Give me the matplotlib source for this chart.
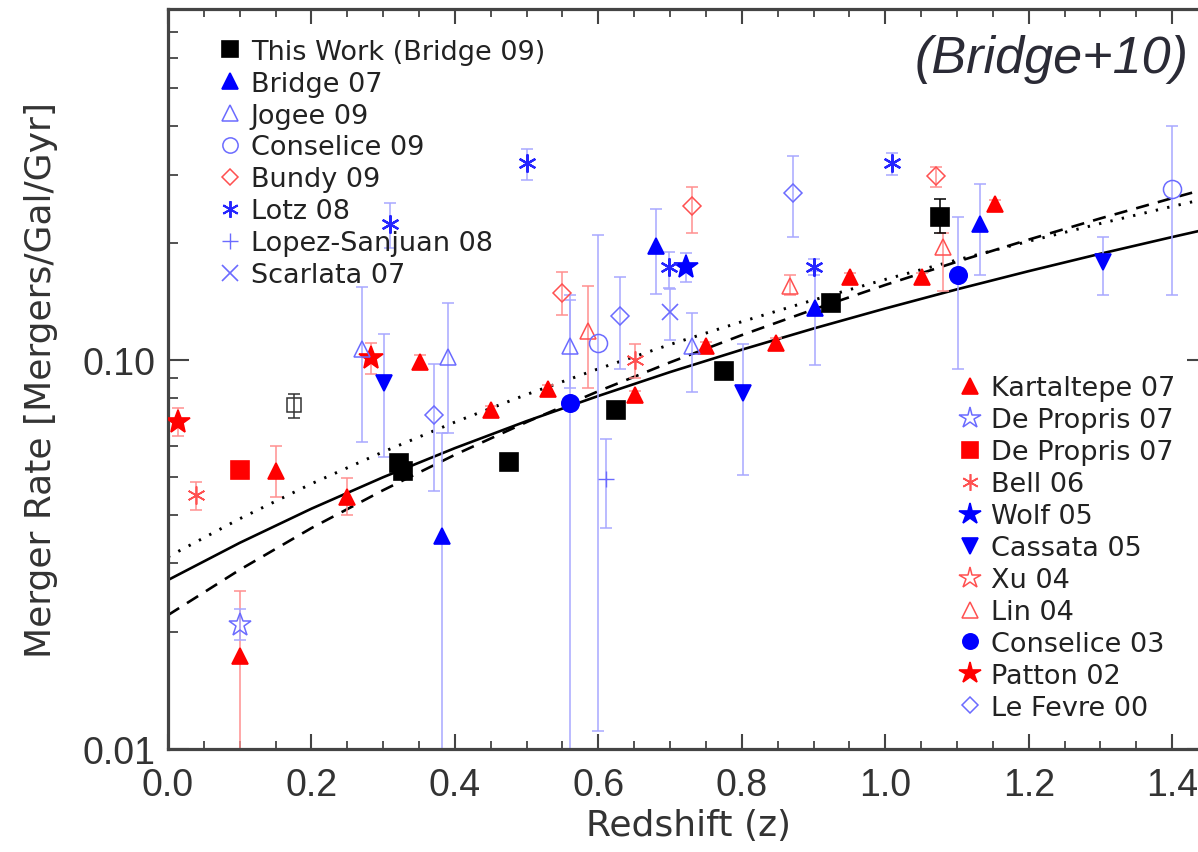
import matplotlib
matplotlib.use("Agg")
import matplotlib.pyplot as plt
from matplotlib.lines import Line2D
from matplotlib.ticker import FixedLocator, FixedFormatter, NullFormatter, MultipleLocator, LogLocator

# fitted curves (z, merger rate)
fit_z = [0.0, 0.1, 0.2, 0.3, 0.4, 0.5, 0.6, 0.7, 0.8, 0.9, 1.0, 1.1, 1.2, 1.3, 1.4, 1.45]
fit_solid = [0.0272, 0.0339, 0.0415, 0.0500, 0.0594, 0.0697, 0.0809, 0.0932,
             0.1064, 0.1206, 0.1358, 0.1521, 0.1694, 0.1878, 0.2073, 0.2175]
fit_dashed = [0.0221, 0.0289, 0.0370, 0.0463, 0.0571, 0.0693, 0.0832, 0.0987,
              0.1160, 0.1350, 0.1561, 0.1791, 0.2042, 0.2315, 0.2610, 0.2766]
fit_dotted = [0.0312, 0.0391, 0.0481, 0.0581, 0.0693, 0.0816, 0.0950, 0.1097,
              0.1256, 0.1428, 0.1613, 0.1810, 0.2022, 0.2246, 0.2485, 0.2609]

# surveys: redshift, rate, lower bound, upper bound
this_z = [0.322, 0.328, 0.475, 0.625, 0.775, 0.925, 1.076]
this_r = [0.0545, 0.0520, 0.0548, 0.0746, 0.0939, 0.140, 0.234]
this_lo = [0.0525, 0.0500, 0.0530, 0.0725, 0.0915, 0.136, 0.212]
this_hi = [0.0565, 0.0540, 0.0566, 0.0767, 0.0963, 0.145, 0.260]

bridge07_z = [0.382, 0.681, 0.902, 1.132]
bridge07_r = [0.0352, 0.197, 0.136, 0.224]
bridge07_lo = [0.005, 0.148, 0.097, 0.166]
bridge07_hi = [0.065, 0.245, 0.170, 0.283]

jogee09_z = [0.27, 0.39, 0.56, 0.73]
jogee09_r = [0.107, 0.102, 0.109, 0.109]
jogee09_lo = [0.0617, 0.0648, 0.085, 0.083]
jogee09_hi = [0.154, 0.140, 0.147, 0.132]

conselice09_z = [0.60, 1.40]
conselice09_r = [0.1104, 0.276]
conselice09_lo = [0.0111, 0.147]
conselice09_hi = [0.210, 0.40]

bundy09_z = [0.55, 0.73, 1.071]
bundy09_r = [0.149, 0.249, 0.298]
bundy09_lo = [0.131, 0.212, 0.279]
bundy09_hi = [0.169, 0.278, 0.313]

lotz08_z = [0.31, 0.50, 0.698, 0.901, 1.010]
lotz08_r = [0.224, 0.322, 0.174, 0.174, 0.321]
lotz08_lo = [0.194, 0.290, 0.153, 0.166, 0.300]
lotz08_hi = [0.253, 0.350, 0.190, 0.182, 0.340]

lopez08_z = [0.611]
lopez08_r = [0.0496]
lopez08_lo = [0.0371]
lopez08_hi = [0.0627]

scarlata07_z = [0.70]
scarlata07_r = [0.133]
scarlata07_lo = [0.113]
scarlata07_hi = [0.152]

kartaltepe07_z = [0.10, 0.151, 0.250, 0.351, 0.450, 0.530, 0.651, 0.750, 0.847, 0.951, 1.051, 1.153]
kartaltepe07_r = [0.0173, 0.052, 0.0446, 0.099, 0.0743, 0.0841, 0.0813, 0.1086, 0.111, 0.164, 0.164, 0.252]
kartaltepe07_lo = [0.005, 0.0446, 0.040, 0.096, 0.0725, 0.0820, 0.0793, 0.1060, 0.108, 0.160, 0.160, 0.246]
kartaltepe07_hi = [0.0255, 0.060, 0.0497, 0.103, 0.0762, 0.0862, 0.0833, 0.1112, 0.114, 0.168, 0.168, 0.258]

depropris_open_z = [0.101]
depropris_open_r = [0.0209]
depropris_open_lo = [0.0191]
depropris_open_hi = [0.0229]

depropris_sq_z = [0.101]
depropris_sq_r = [0.0521]

bell06_z = [0.039, 0.651]
bell06_r = [0.045, 0.100]
bell06_lo = [0.0412, 0.090]
bell06_hi = [0.0485, 0.110]

wolf05_z = [0.722]
wolf05_r = [0.174]
wolf05_lo = [0.159]
wolf05_hi = [0.189]

cassata05_z = [0.301, 0.801, 1.304]
cassata05_r = [0.0871, 0.0821, 0.179]
cassata05_lo = [0.0565, 0.0506, 0.147]
cassata05_hi = [0.117, 0.110, 0.207]

lin04_z = [0.585, 0.867, 1.080]
lin04_r = [0.119, 0.155, 0.195]
lin04_lo = [0.0847, 0.147, 0.151]
lin04_hi = [0.155, 0.166, 0.212]

conselice03_z = [0.561, 1.102]
conselice03_r = [0.0774, 0.166]
conselice03_lo = [0.005, 0.095]
conselice03_hi = [0.143, 0.234]

patton02_z = [0.014, 0.283]
patton02_r = [0.0693, 0.1014]
patton02_lo = [0.0638, 0.0924]
patton02_hi = [0.0754, 0.111]

lefevre00_z = [0.371, 0.63, 0.872]
lefevre00_r = [0.0723, 0.130, 0.269]
lefevre00_lo = [0.0462, 0.095, 0.207]
lefevre00_hi = [0.098, 0.164, 0.335]

extra_z = [0.175]
extra_r = [0.0766]
extra_lo = [0.0712]
extra_hi = [0.082]

legend1_labels = ["This Work (Bridge 09)", "Bridge 07", "Jogee 09", "Conselice 09",
                  "Bundy 09", "Lotz 08", "Lopez-Sanjuan 08", "Scarlata 07"]
legend2_labels = ["Kartaltepe 07", "De Propris 07", "De Propris 07", "Bell 06", "Wolf 05",
                  "Cassata 05", "Xu 04", "Lin 04", "Conselice 03", "Patton 02", "Le Fevre 00"]

BLUE = '#0000ff'
LBLUE = '#6b6bff'
EBLUE = '#a8a8ff'
RED = '#ff0000'
LRED = '#ff5050'
ERED = '#ff9090'
ASTER = (6, 2, 0)

fig = plt.figure(figsize=(11.98, 8.53), dpi=100)
ax = fig.add_axes([168 / 1198, 103 / 853, 1040 / 1198, 740 / 853])


def survey(z, r, lo, hi, marker, color, ecolor, ms, filled=True, mew=1.2, zorder=3):
    if lo is not None:
        yerr = [[a - b for a, b in zip(r, lo)], [b - a for a, b in zip(r, hi)]]
        ax.errorbar(z, r, yerr=yerr, fmt='none', ecolor=ecolor, elinewidth=1.1,
                    capsize=4.5, capthick=1.1, zorder=2)
    ax.plot(z, r, linestyle='none', marker=marker, ms=ms,
            mfc=color if filled else 'none', mec=color, mew=mew, zorder=zorder)


# fit lines
ax.plot(fit_z, fit_solid, color='black', lw=1.9, zorder=1)
ax.plot(fit_z, fit_dashed, color='black', lw=1.9, ls=(0, (5, 3.5)), zorder=1)
ax.plot(fit_z, fit_dotted, color='black', lw=2.1, ls=(0, (0.8, 3.2)), zorder=1)

survey(extra_z, extra_r, extra_lo, extra_hi, 's', '#333333', '#333333', 10, filled=False, mew=1.1)
survey(kartaltepe07_z, kartaltepe07_r, kartaltepe07_lo, kartaltepe07_hi, '^', RED, ERED, 12)
survey(depropris_open_z, depropris_open_r, depropris_open_lo, depropris_open_hi, '*', LBLUE, EBLUE, 17, filled=False, mew=1.1)
survey(depropris_sq_z, depropris_sq_r, None, None, 's', RED, ERED, 13)
survey(bell06_z, bell06_r, bell06_lo, bell06_hi, ASTER, LRED, ERED, 13, mew=1.2)
survey(wolf05_z, wolf05_r, wolf05_lo, wolf05_hi, '*', BLUE, EBLUE, 18)
survey(cassata05_z, cassata05_r, cassata05_lo, cassata05_hi, 'v', BLUE, EBLUE, 12)
survey(lin04_z, lin04_r, lin04_lo, lin04_hi, '^', LRED, ERED, 12, filled=False, mew=1.1)
survey(conselice03_z, conselice03_r, conselice03_lo, conselice03_hi, 'o', BLUE, EBLUE, 12.5)
survey(patton02_z, patton02_r, patton02_lo, patton02_hi, '*', RED, ERED, 18)
survey(lefevre00_z, lefevre00_r, lefevre00_lo, lefevre00_hi, 'D', LBLUE, EBLUE, 9, filled=False, mew=1.1)
survey(bridge07_z, bridge07_r, bridge07_lo, bridge07_hi, '^', BLUE, EBLUE, 12)
survey(jogee09_z, jogee09_r, jogee09_lo, jogee09_hi, '^', LBLUE, EBLUE, 12, filled=False, mew=1.1)
survey(conselice09_z, conselice09_r, conselice09_lo, conselice09_hi, 'o', LBLUE, EBLUE, 13, filled=False, mew=1.1)
survey(bundy09_z, bundy09_r, bundy09_lo, bundy09_hi, 'D', LRED, ERED, 9, filled=False, mew=1.1)
survey(lotz08_z, lotz08_r, lotz08_lo, lotz08_hi, ASTER, '#2525ff', EBLUE, 13, mew=1.6)
survey(lopez08_z, lopez08_r, lopez08_lo, lopez08_hi, '+', LBLUE, EBLUE, 12, mew=1.0)
survey(scarlata07_z, scarlata07_r, scarlata07_lo, scarlata07_hi, 'x', LBLUE, EBLUE, 11, mew=1.2)
survey(this_z, this_r, this_lo, this_hi, 's', 'black', 'black', 13, zorder=4)

# axes
ax.set_yscale('log')
ax.set_xlim(0, 1.45)
ax.set_ylim(0.01, 0.8)
ax.xaxis.set_major_locator(MultipleLocator(0.2))
ax.xaxis.set_minor_locator(MultipleLocator(0.05))
ax.yaxis.set_major_locator(FixedLocator([0.01, 0.1]))
ax.yaxis.set_major_formatter(FixedFormatter(["0.01", "0.10"]))
ax.yaxis.set_minor_locator(LogLocator(base=10, subs=range(2, 10)))
ax.yaxis.set_minor_formatter(NullFormatter())
ax.xaxis.set_major_formatter(matplotlib.ticker.FormatStrFormatter('%.1f'))

for s in ax.spines.values():
    s.set_linewidth(2.3)
    s.set_color('#444444')
ax.tick_params(which='both', direction='in', top=True, right=True, color='#444444',
               labelcolor='#333333')
ax.tick_params(axis='x', which='major', length=11, width=1.5, pad=13, labelsize=27)
ax.tick_params(axis='x', which='minor', length=6, width=1.3)
ax.tick_params(axis='y', which='major', length=15, width=1.5, pad=9, labelsize=27)
ax.tick_params(axis='y', which='minor', length=7.5, width=1.3)
for lab in ax.get_xticklabels() + ax.get_yticklabels():
    lab.set_family('Liberation Sans')

ax.set_xlabel("Redshift (z)", fontsize=26, color='#333333')
ax.set_ylabel("Merger Rate [Mergers/Gal/Gyr]", fontsize=26, color='#333333')
ax.xaxis.set_label_coords(0.5, -0.080)
ax.yaxis.set_label_coords(-0.106, 0.5)


def handle(marker, color, ms, filled=True, mew=1.2):
    return Line2D([], [], ls='none', marker=marker, ms=ms, mec=color,
                  mfc=color if filled else 'none', mew=mew)


h1 = [handle('s', 'black', 11), handle('^', BLUE, 11), handle('^', LBLUE, 11, False, 1.1),
      handle('o', LBLUE, 11, False, 1.1), handle('D', LRED, 8, False, 1.1),
      handle(ASTER, '#2525ff', 12, True, 1.4), handle('+', LBLUE, 12, True, 1.0),
      handle('x', LBLUE, 11, True, 1.2)]
h2 = [handle('^', RED, 11), handle('*', LBLUE, 16, False, 1.1), handle('s', RED, 11),
      handle(ASTER, LRED, 12, True, 1.2), handle('*', BLUE, 16), handle('v', BLUE, 11),
      handle('*', LRED, 16, False, 1.1), handle('^', LRED, 11, False, 1.1),
      handle('o', BLUE, 11), handle('*', RED, 16), handle('D', LBLUE, 8, False, 1.1)]

leg_kw = dict(frameon=False, fontsize=19.5, handlelength=0.8, handletextpad=0.38,
              labelspacing=0.22, borderpad=0, borderaxespad=0, loc='upper left',
              labelcolor='#222222', numpoints=1)
leg1 = ax.legend(h1, legend1_labels, bbox_to_anchor=(0.0488, 0.960), **leg_kw)
ax.add_artist(leg1)
ax.legend(h2, legend2_labels, bbox_to_anchor=(0.761, 0.505), **leg_kw)

fig.text(1189 / 1198, 1 - 60 / 853, "(Bridge+10)", ha='right', va='center',
         fontsize=37.5, style='italic', family='Liberation Sans', color='#2b2b36')

fig.savefig("out.png", dpi=100)
